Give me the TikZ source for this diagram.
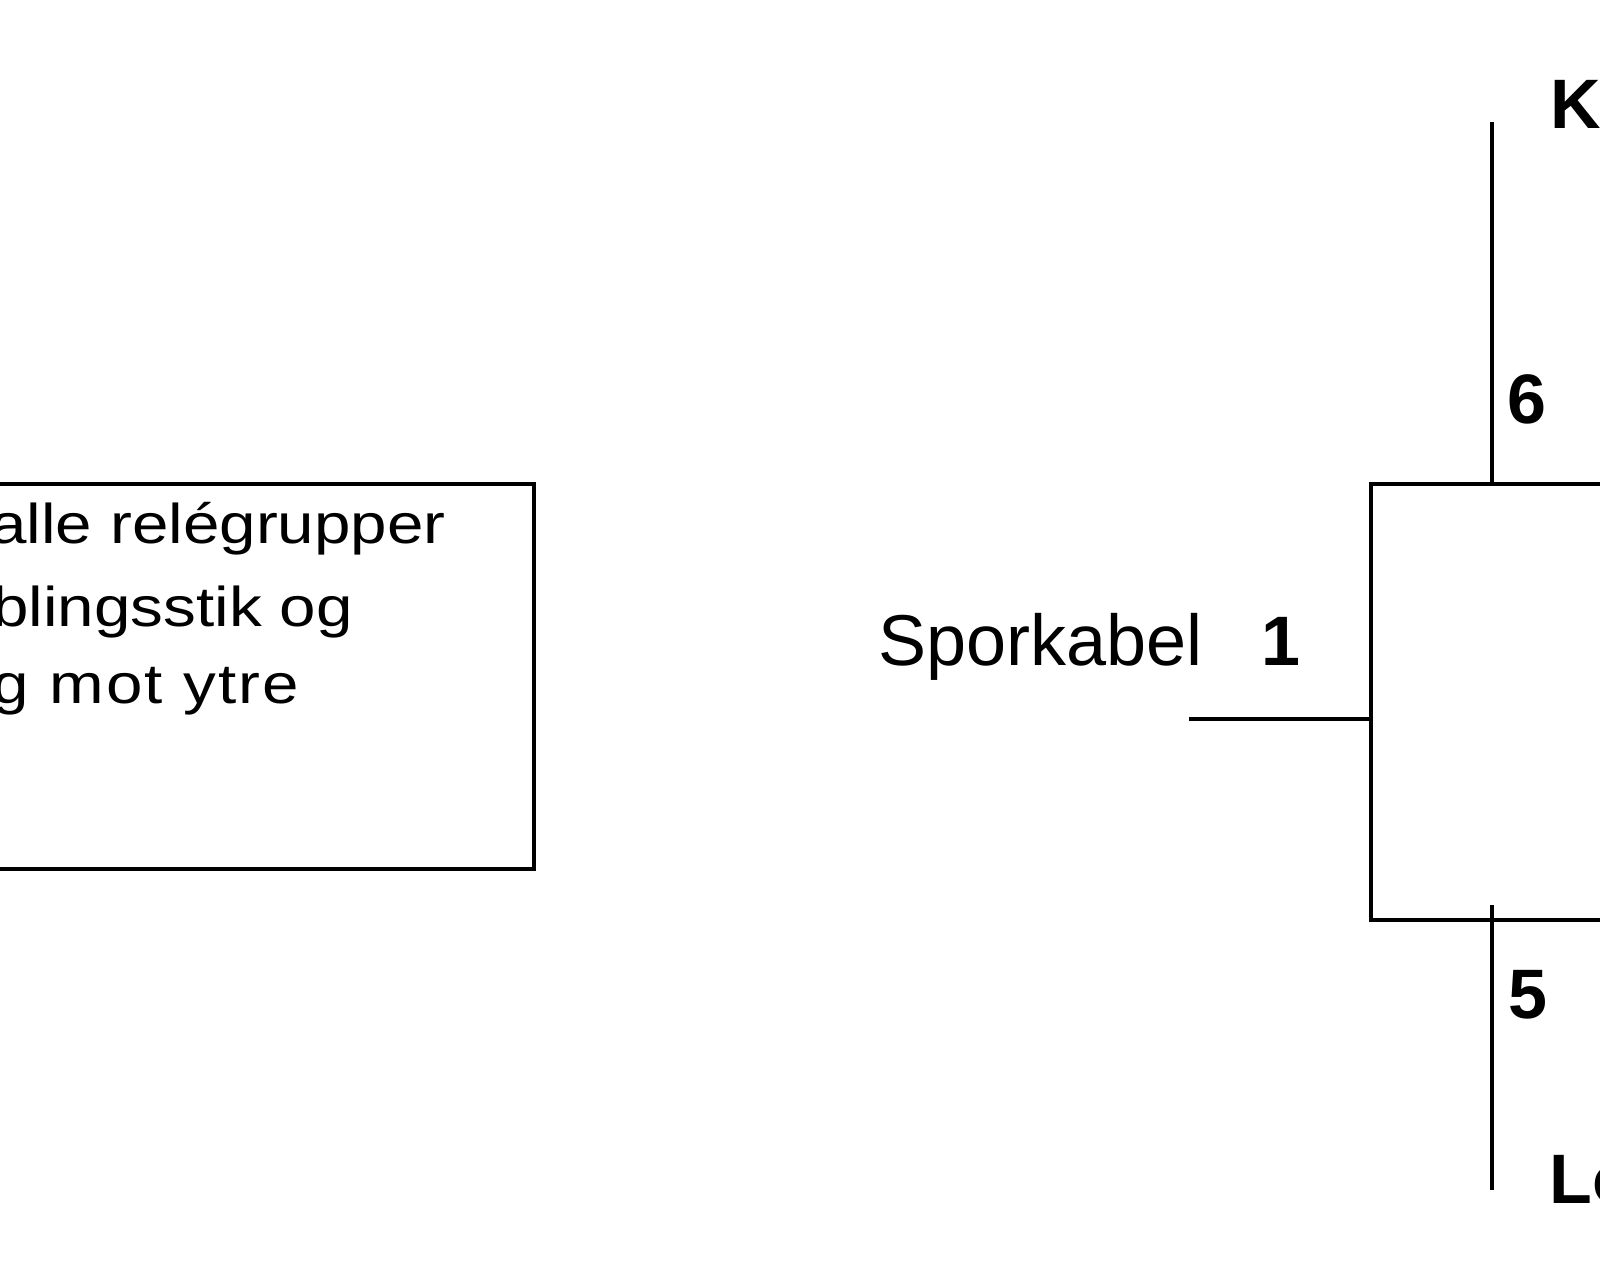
\documentclass[tikz,border=0pt]{standalone}
\usepackage{fontspec}
\setmainfont{Liberation Sans}
\newfontfamily\boxfont[FakeStretch=1.17]{Liberation Sans}
\begin{document}
\begin{tikzpicture}[x=0.5pt,y=-0.5pt,
  wire/.style={line width=2.2pt},
  boxed/.style={draw,line width=2.2pt,inner sep=0pt,anchor=north west},
  lbl/.style={inner sep=0pt,anchor=base west,font=\fontsize{36pt}{40pt}\selectfont},
  num/.style={inner sep=0pt,anchor=base west,font=\fontsize{35pt}{40pt}\selectfont\bfseries},
  btxt/.style={inner sep=0pt,anchor=base west,font=\fontsize{28pt}{40pt}\selectfont\boxfont}]
\useasboundingbox (0,0) rectangle (1600,1281);
% left box (cut by the left edge)
\node[boxed,minimum width=316pt,minimum height=192.5pt] (lbox) at (-100,482) {};
\node[btxt] (t1) at (-10,543) {alle relégrupper};
\node[btxt] (t2) at (-8,626) {blingsstik og};
\node[btxt,font=\fontsize{28pt}{40pt}\selectfont\boxfont\addfontfeature{LetterSpace=4}] (t3) at (-8,703) {g mot ytre};
% right box (cut by the right edge)
\node[boxed,minimum width=165.5pt,minimum height=218pt] (rbox) at (1369,482) {};
% wires
\coordinate (w6) at (1492,122);
\draw[wire] (w6) -- (w6 |- rbox.north);
\coordinate (w5a) at (1492,905);
\coordinate (w5b) at (1492,1190);
\draw[wire] (w5a) -- (w5b);
\coordinate (sk) at (1189,719);
\draw[wire] (sk) -- (sk -| rbox.west);
% labels
\node[lbl] (spk) at (878,665) {Sporkabel};
\node[num] (n1) at (1261,665) {1};
\node[num] (n6) at (1507,423) {6};
\node[num] (n5) at (1508,1018) {5};
\node[num] (ko) at (1550,128) {Ko};
\node[num] (lo) at (1549,1203) {Lo};
\end{tikzpicture}
\end{document}
